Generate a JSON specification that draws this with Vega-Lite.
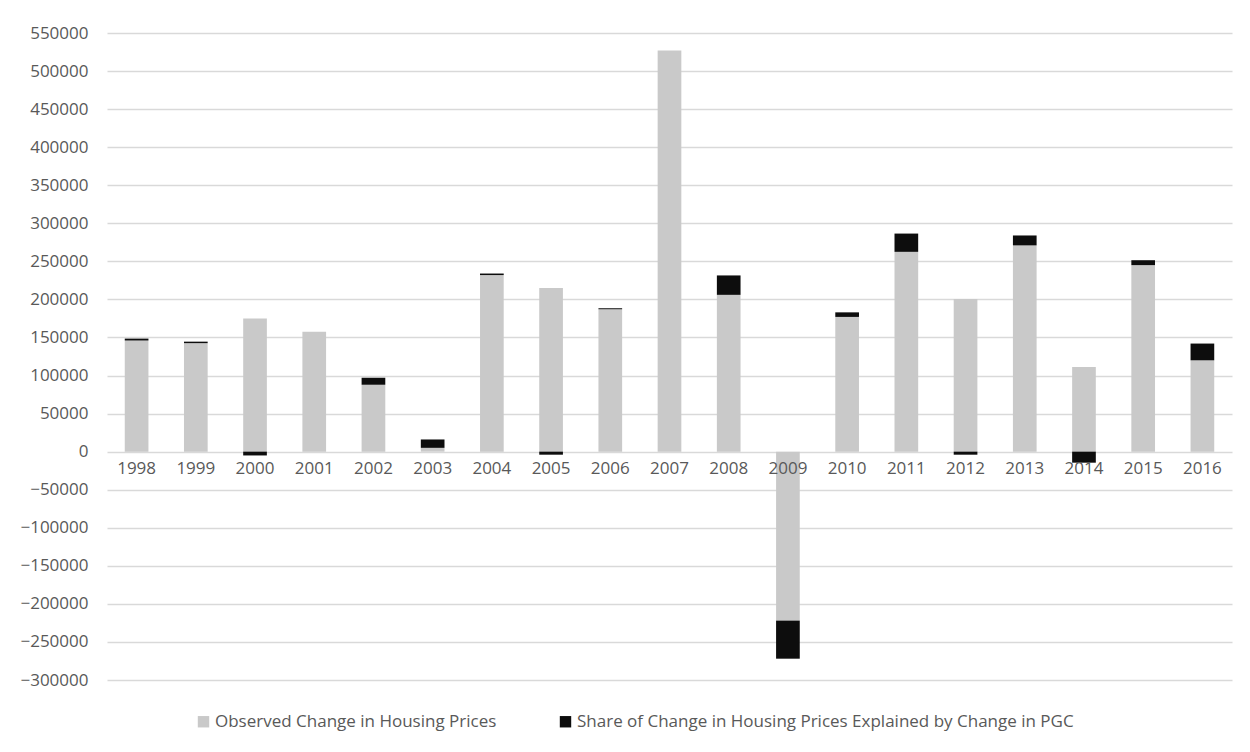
{
  "$schema": "https://vega.github.io/schema/vega-lite/v6.json",
  "autosize": "none",
  "width": 1125,
  "height": 647,
  "padding": {"left": 107, "top": 33, "right": 18, "bottom": 72},
  "background": "white",
  "config": {
    "view": {"stroke": null},
    "font": "Open Sans",
    "axis": {"labelFont": "Open Sans", "labelColor": "#595959", "labelFontSize": 17},
    "legend": {"labelFont": "Open Sans", "labelColor": "#595959", "labelFontSize": 17, "labelLimit": 0}
  },
  "data": {
    "values": [
      {"year": "1998", "series": "Observed Change in Housing Prices", "value": 146000},
      {"year": "1998", "series": "Share of Change in Housing Prices Explained by Change in PGC", "value": 2500},
      {"year": "1999", "series": "Observed Change in Housing Prices", "value": 142500},
      {"year": "1999", "series": "Share of Change in Housing Prices Explained by Change in PGC", "value": 2000},
      {"year": "2000", "series": "Observed Change in Housing Prices", "value": 175000},
      {"year": "2000", "series": "Share of Change in Housing Prices Explained by Change in PGC", "value": -5000},
      {"year": "2001", "series": "Observed Change in Housing Prices", "value": 157500},
      {"year": "2001", "series": "Share of Change in Housing Prices Explained by Change in PGC", "value": 0},
      {"year": "2002", "series": "Observed Change in Housing Prices", "value": 88000},
      {"year": "2002", "series": "Share of Change in Housing Prices Explained by Change in PGC", "value": 9000},
      {"year": "2003", "series": "Observed Change in Housing Prices", "value": 5000},
      {"year": "2003", "series": "Share of Change in Housing Prices Explained by Change in PGC", "value": 11000},
      {"year": "2004", "series": "Observed Change in Housing Prices", "value": 232000},
      {"year": "2004", "series": "Share of Change in Housing Prices Explained by Change in PGC", "value": 2000},
      {"year": "2005", "series": "Observed Change in Housing Prices", "value": 215000},
      {"year": "2005", "series": "Share of Change in Housing Prices Explained by Change in PGC", "value": -4000},
      {"year": "2006", "series": "Observed Change in Housing Prices", "value": 187000},
      {"year": "2006", "series": "Share of Change in Housing Prices Explained by Change in PGC", "value": 1500},
      {"year": "2007", "series": "Observed Change in Housing Prices", "value": 527000},
      {"year": "2007", "series": "Share of Change in Housing Prices Explained by Change in PGC", "value": 0},
      {"year": "2008", "series": "Observed Change in Housing Prices", "value": 206000},
      {"year": "2008", "series": "Share of Change in Housing Prices Explained by Change in PGC", "value": 25500},
      {"year": "2009", "series": "Observed Change in Housing Prices", "value": -222000},
      {"year": "2009", "series": "Share of Change in Housing Prices Explained by Change in PGC", "value": -50000},
      {"year": "2010", "series": "Observed Change in Housing Prices", "value": 177000},
      {"year": "2010", "series": "Share of Change in Housing Prices Explained by Change in PGC", "value": 6000},
      {"year": "2011", "series": "Observed Change in Housing Prices", "value": 262500},
      {"year": "2011", "series": "Share of Change in Housing Prices Explained by Change in PGC", "value": 24000},
      {"year": "2012", "series": "Observed Change in Housing Prices", "value": 200700},
      {"year": "2012", "series": "Share of Change in Housing Prices Explained by Change in PGC", "value": -4000},
      {"year": "2013", "series": "Observed Change in Housing Prices", "value": 271000},
      {"year": "2013", "series": "Share of Change in Housing Prices Explained by Change in PGC", "value": 13000},
      {"year": "2014", "series": "Observed Change in Housing Prices", "value": 111300},
      {"year": "2014", "series": "Share of Change in Housing Prices Explained by Change in PGC", "value": -14500},
      {"year": "2015", "series": "Observed Change in Housing Prices", "value": 245000},
      {"year": "2015", "series": "Share of Change in Housing Prices Explained by Change in PGC", "value": 6500},
      {"year": "2016", "series": "Observed Change in Housing Prices", "value": 120000},
      {"year": "2016", "series": "Share of Change in Housing Prices Explained by Change in PGC", "value": 22000}
    ]
  },
  "mark": {"type": "bar"},
  "encoding": {
    "x": {
      "field": "year",
      "type": "ordinal",
      "scale": {"paddingInner": 0.6, "paddingOuter": 0.3},
      "axis": {
        "title": null,
        "labelAngle": 0,
        "domain": false,
        "ticks": false,
        "offset": -228.4,
        "labelPadding": 9,
        "zindex": 1
      }
    },
    "y": {
      "field": "value",
      "type": "quantitative",
      "stack": "zero",
      "scale": {"domain": [-300000, 550000], "nice": false, "zero": false},
      "axis": {
        "title": null,
        "values": [-300000, -250000, -200000, -150000, -100000, -50000, 0, 50000, 100000, 150000, 200000, 250000, 300000, 350000, 400000, 450000, 500000, 550000],
        "format": "d",
        "domain": false,
        "ticks": false,
        "labelPadding": 19,
        "gridColor": "#d9d9d9",
        "gridWidth": 1.3
      }
    },
    "color": {
      "field": "series",
      "type": "nominal",
      "scale": {
        "domain": ["Observed Change in Housing Prices", "Share of Change in Housing Prices Explained by Change in PGC"],
        "range": ["#c9c9c9", "#0d0d0d"]
      },
      "legend": {
        "title": null,
        "orient": "none",
        "direction": "horizontal",
        "legendX": 88,
        "legendY": 680,
        "symbolType": "square",
        "symbolSize": 130,
        "symbolStrokeWidth": 0,
        "labelOffset": 3,
        "labelLimit": 0,
        "columnPadding": 60
      }
    },
    "order": {"field": "series", "sort": "ascending"}
  }
}
